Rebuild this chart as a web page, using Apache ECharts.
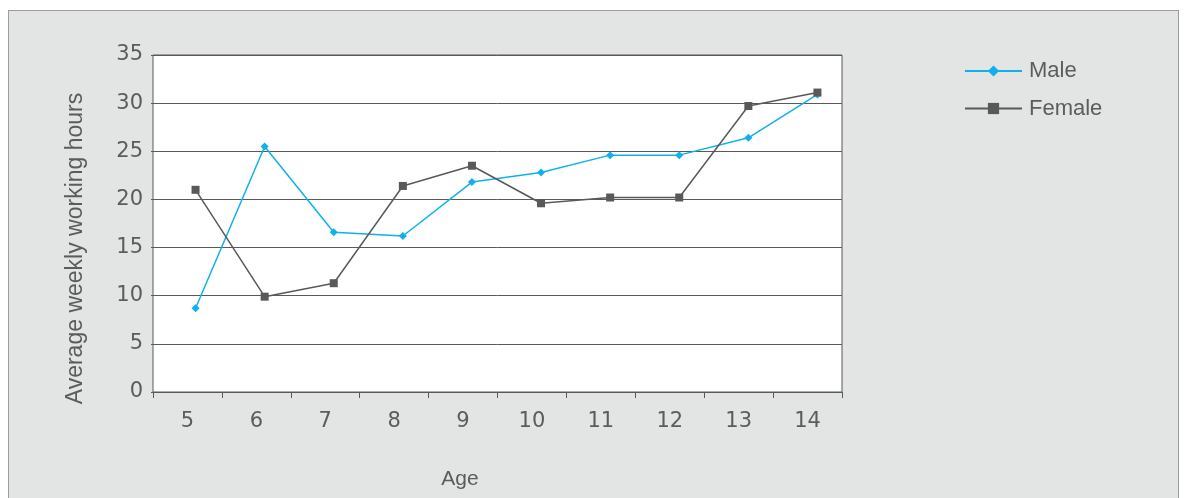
<!DOCTYPE html>
<html>
<head>
<meta charset="utf-8">
<script src="https://cdn.jsdelivr.net/npm/echarts@6/dist/echarts.min.js"></script>
<style>
  html, body { margin: 0; padding: 0; background: #ffffff; width: 1186px; height: 498px; overflow: hidden; }
  #frame { position: absolute; left: 8px; top: 10px; width: 1169px; height: 600px; border: 1px solid #9d9d9d; background: #e3e4e4; }
  #chart { position: absolute; left: 0; top: 0; width: 1186px; height: 498px; }
</style>
</head>
<body>
<div id="frame"></div>
<div id="chart"></div>
<script>
const ages = ['5', '6', '7', '8', '9', '10', '11', '12', '13', '14'];
const maleHours = [8.7, 25.5, 16.6, 16.2, 21.8, 22.8, 24.6, 24.6, 26.4, 30.9];
const femaleHours = [21.0, 9.9, 11.3, 21.4, 23.5, 19.6, 20.2, 20.2, 29.7, 31.1];
const yTicks = { min: 0, max: 35, interval: 5 };

const textColor = '#5b5c5e';
const lineGray = '#595959';
const font = 'Liberation Sans, Arial, sans-serif';
const tickFont = 'DejaVu Sans, Liberation Sans, sans-serif';

const chart = echarts.init(document.getElementById('chart'));
chart.setOption({
  backgroundColor: 'transparent',
  animation: false,
  grid: [
    { left: 153, top: 55, width: 689, bottom: 106, show: true, backgroundColor: '#ffffff', borderColor: lineGray, borderWidth: 1 },
    { left: 161, top: 55, width: 691, bottom: 106, show: false }
  ],
  xAxis: [
    {
      type: 'category', gridIndex: 0, data: ages, boundaryGap: true,
      axisLine: { show: true, lineStyle: { color: lineGray, width: 1 } },
      axisTick: { show: true, length: 6, interval: 0, lineStyle: { color: lineGray } },
      axisLabel: { fontSize: 21, color: textColor, fontFamily: tickFont, margin: 19, interval: 0 },
      name: 'Age', nameLocation: 'middle', nameGap: 77,
      nameTextStyle: { fontSize: 21, color: textColor, fontFamily: font, padding: [0, 75, 0, 0] }
    },
    {
      type: 'category', gridIndex: 1, data: ages, boundaryGap: true, show: false
    }
  ],
  yAxis: [
    {
      type: 'value', gridIndex: 0, min: yTicks.min, max: yTicks.max, interval: yTicks.interval,
      axisLine: { show: false },
      axisTick: { show: true, length: 2, lineStyle: { color: lineGray } },
      splitLine: { show: true, lineStyle: { color: lineGray, width: 1 } },
      axisLabel: { fontSize: 21, color: textColor, fontFamily: tickFont, margin: 10 },
      name: 'Average weekly working hours', nameLocation: 'middle', nameGap: 66, nameRotate: 90,
      nameTextStyle: { fontSize: 23, color: textColor, fontFamily: font, padding: [0, 50, 0, 0] }
    },
    {
      type: 'value', gridIndex: 1, min: yTicks.min, max: yTicks.max, interval: yTicks.interval, show: false,
      splitLine: { show: false }
    }
  ],
  legend: {
    orient: 'vertical', left: 959, top: 55,
    itemWidth: 57, itemHeight: 14, itemGap: 15.5,
    textStyle: { fontSize: 22, color: textColor, fontFamily: font, lineHeight: 22, padding: [0, 0, 0, 2] },
    data: ['Male', 'Female']
  },
  series: [
    {
      name: 'Male', type: 'line', xAxisIndex: 1, yAxisIndex: 1, data: maleHours,
      symbol: 'diamond', symbolSize: 8, color: '#0fb1ec',
      lineStyle: { width: 1.5, color: '#0fb1ec' }, itemStyle: { color: '#0fb1ec' }
    },
    {
      name: 'Female', type: 'line', xAxisIndex: 1, yAxisIndex: 1, data: femaleHours,
      symbol: 'rect', symbolSize: 8, color: '#58595b',
      lineStyle: { width: 1.5, color: '#58595b' }, itemStyle: { color: '#58595b' }
    }
  ]
});
</script>
</body>
</html>
